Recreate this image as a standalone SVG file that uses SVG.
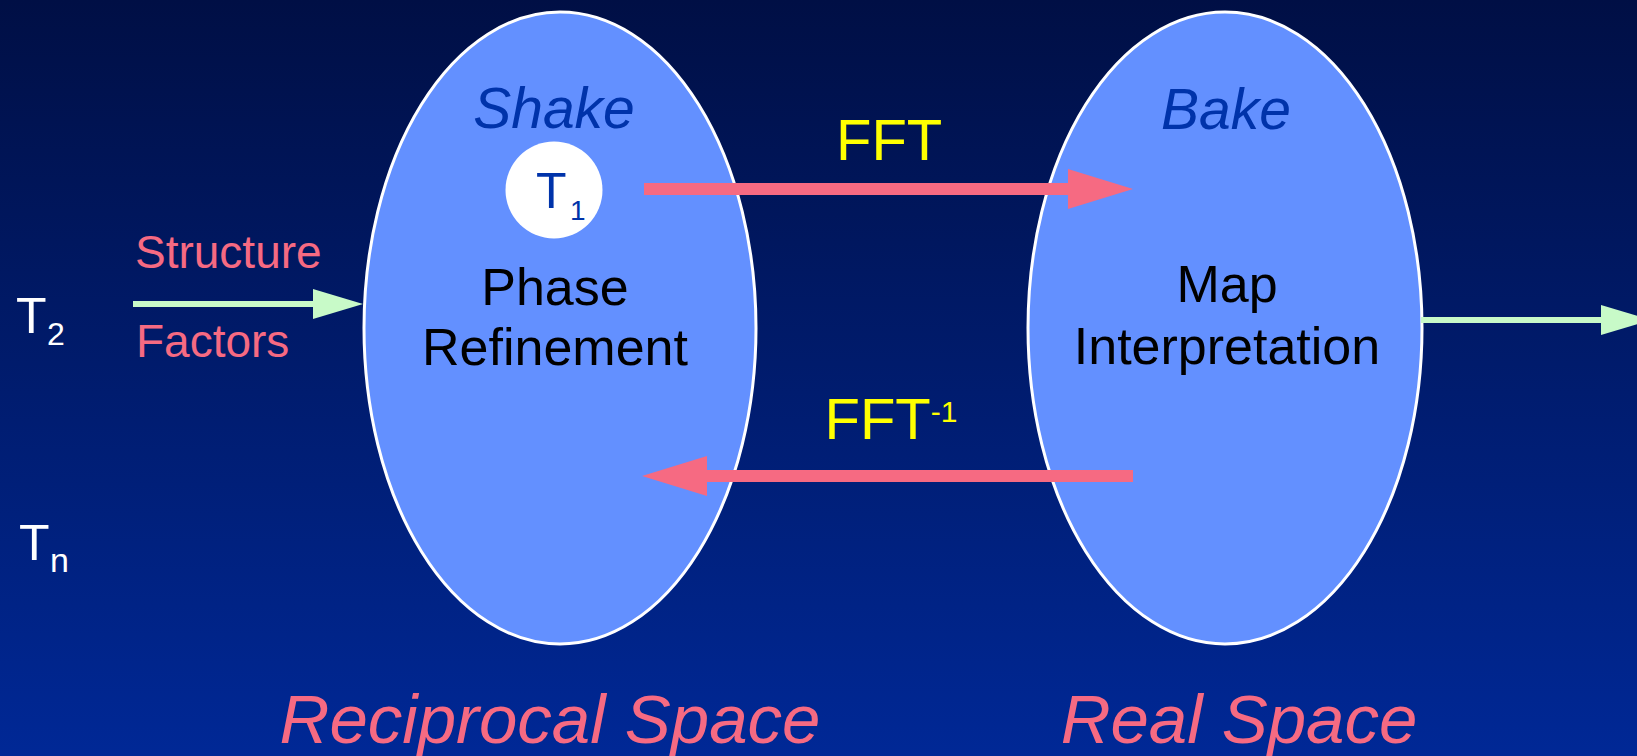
<svg xmlns="http://www.w3.org/2000/svg" width="1637" height="756" viewBox="0 0 1637 756">
  <defs>
    <linearGradient id="bg" x1="0" y1="0" x2="0" y2="1">
      <stop offset="0" stop-color="#000F45"/>
      <stop offset="1" stop-color="#002896"/>
    </linearGradient>
    <marker id="pinkHead" markerUnits="userSpaceOnUse" markerWidth="66" markerHeight="42" refX="0" refY="20" orient="auto" overflow="visible">
      <path d="M0,0 L65,20 L0,40 Z" fill="#F66A82"/>
    </marker>
    <marker id="greenHead" markerUnits="userSpaceOnUse" markerWidth="52" markerHeight="32" refX="0" refY="15" orient="auto" overflow="visible">
      <path d="M0,0 L50,15 L0,30 Z" fill="#C8FAC8"/>
    </marker>
  </defs>
  <style>
    text { font-family: "Liberation Sans", Arial, sans-serif; }
    .space { fill: #6390FF; stroke: #FFFFFF; stroke-width: 3; }
    .ital { font-style: italic; fill: #0033AA; font-size: 57px; }
    .body { fill: #000000; font-size: 52px; text-anchor: middle; }
    .yel { fill: #FFFF00; font-size: 58px; }
    .pinktxt { fill: #F66A82; font-size: 46px; }
    .big { fill: #F66A82; font-size: 69px; font-style: italic; text-anchor: middle; }
    .white { fill: #FFFFFF; font-size: 50px; }
    .pinkline { stroke: #F66A82; stroke-width: 12; fill: none; marker-end: url(#pinkHead); }
    .greenline { stroke: #C8FAC8; stroke-width: 6; fill: none; marker-end: url(#greenHead); }
  </style>
  <rect x="0" y="0" width="1637" height="756" fill="url(#bg)"/>

  <g id="reciprocal">
    <ellipse class="space" cx="560" cy="328" rx="196" ry="316"/>
    <text class="ital" x="554" y="128" text-anchor="middle">Shake</text>
    <text class="body" x="555" y="305">Phase</text>
    <text class="body" x="555" y="365">Refinement</text>
  </g>

  <g id="t1">
    <circle cx="554" cy="190" r="48.5" fill="#FFFFFF"/>
    <text x="536" y="208" font-size="50" fill="#0033AA">T<tspan font-size="28" x="570" y="220">1</tspan></text>
  </g>

  <g id="real">
    <ellipse class="space" cx="1225" cy="328" rx="197" ry="316"/>
    <text class="ital" x="1226" y="129" text-anchor="middle">Bake</text>
    <text class="body" x="1227" y="302">Map</text>
    <text class="body" x="1227" y="364">Interpretation</text>
  </g>

  <g id="t2">
    <text class="white" x="16" y="333">T<tspan font-size="32" x="47" y="345">2</tspan></text>
  </g>
  <g id="tn">
    <text class="white" x="19" y="560">T<tspan font-size="34" x="50" y="572">n</tspan></text>
  </g>

  <g id="connectors">
    <line class="pinkline" x1="644" y1="189" x2="1068" y2="189"/>
    <line class="pinkline" x1="1133" y1="476" x2="707" y2="476"/>
    <line class="greenline" x1="133" y1="304" x2="313" y2="304"/>
    <line class="greenline" x1="1421" y1="320" x2="1601" y2="320"/>
  </g>

  <g id="labels">
    <text class="yel" x="836" y="160">FFT</text>
    <text class="yel" x="824.5" y="439">FFT<tspan font-size="30" y="422">-1</tspan></text>
    <text class="pinktxt" x="135" y="268">Structure</text>
    <text class="pinktxt" x="136" y="357">Factors</text>
    <text class="big" x="550" y="743">Reciprocal Space</text>
    <text class="big" x="1239" y="743">Real Space</text>
  </g>
</svg>
